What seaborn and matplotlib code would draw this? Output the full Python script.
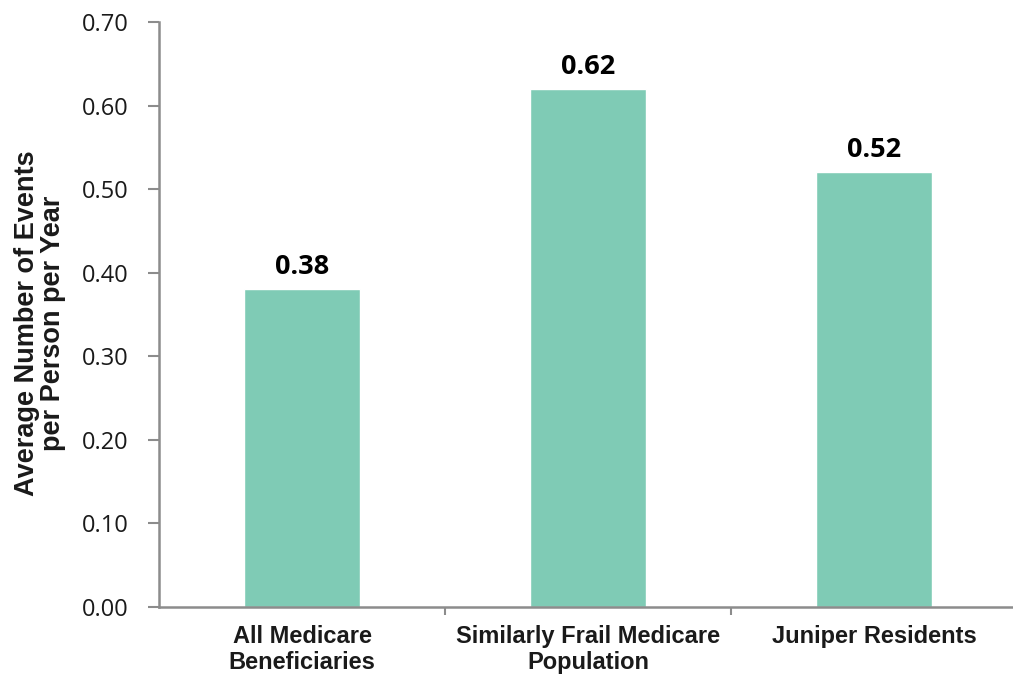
import seaborn as sns
import matplotlib.pyplot as plt
import pandas as pd

categories = ['All Medicare\nBeneficiaries', 'Similarly Frail Medicare\nPopulation', 'Juniper Residents']
values = [0.38, 0.62, 0.52]
yticks = [0.0, 0.1, 0.2, 0.3, 0.4, 0.5, 0.6, 0.7]

df = pd.DataFrame({'group': categories, 'events': values})

sns.set_style('white')
fig = plt.figure(figsize=(10.13, 6.75), dpi=100)
ax = fig.add_axes([0.157, 0.1007, 0.847, 0.8667])

sns.barplot(data=df, x='group', y='events', color='#7fcbb5', saturation=1,
            width=0.404, ax=ax)

ax.set_xlim(-0.5, 2.5)
ax.set_ylim(0, 0.7)
ax.set_yticks(yticks)
ax.set_yticklabels(['%.2f' % t for t in yticks], family='Open Sans', fontsize=17, color='#1a1a1a')

# x ticks sit between the categories, labels at centres
ax.set_xticks([0.5, 1.5])
ax.set_xticklabels([])
ax.set_xticks([0, 1, 2], minor=True)
ax.set_xticklabels(categories, minor=True, family='Liberation Sans', fontweight='bold',
                   fontsize=17, color='#1a1a1a', linespacing=1.15)
ax.tick_params(axis='x', which='minor', length=0, pad=13)
ax.tick_params(axis='x', which='major', length=6, width=1.5, color='#8c8c8c', direction='out')
ax.tick_params(axis='y', length=8, width=1.5, color='#8c8c8c', direction='out', pad=14)
ax.tick_params(axis='both', bottom=True, left=True)

for s in ['top', 'right']:
    ax.spines[s].set_visible(False)
for s in ['left', 'bottom']:
    ax.spines[s].set_color('#8c8c8c')
    ax.spines[s].set_linewidth(1.8)

ax.set_xlabel('')
ax.set_ylabel('Average Number of Events\nper Person per Year', family='Liberation Sans',
              fontweight='bold', fontsize=19.5, color='#1a1a1a', linespacing=1.0)
ax.yaxis.set_label_coords(-0.108, 0.485)

for i, v in enumerate(values):
    ax.text(i, v + 0.011, '%.2f' % v, ha='center', va='bottom', family='Open Sans',
            fontweight='bold', fontsize=19.5, color='black')

fig.savefig('out.png', dpi=100)
